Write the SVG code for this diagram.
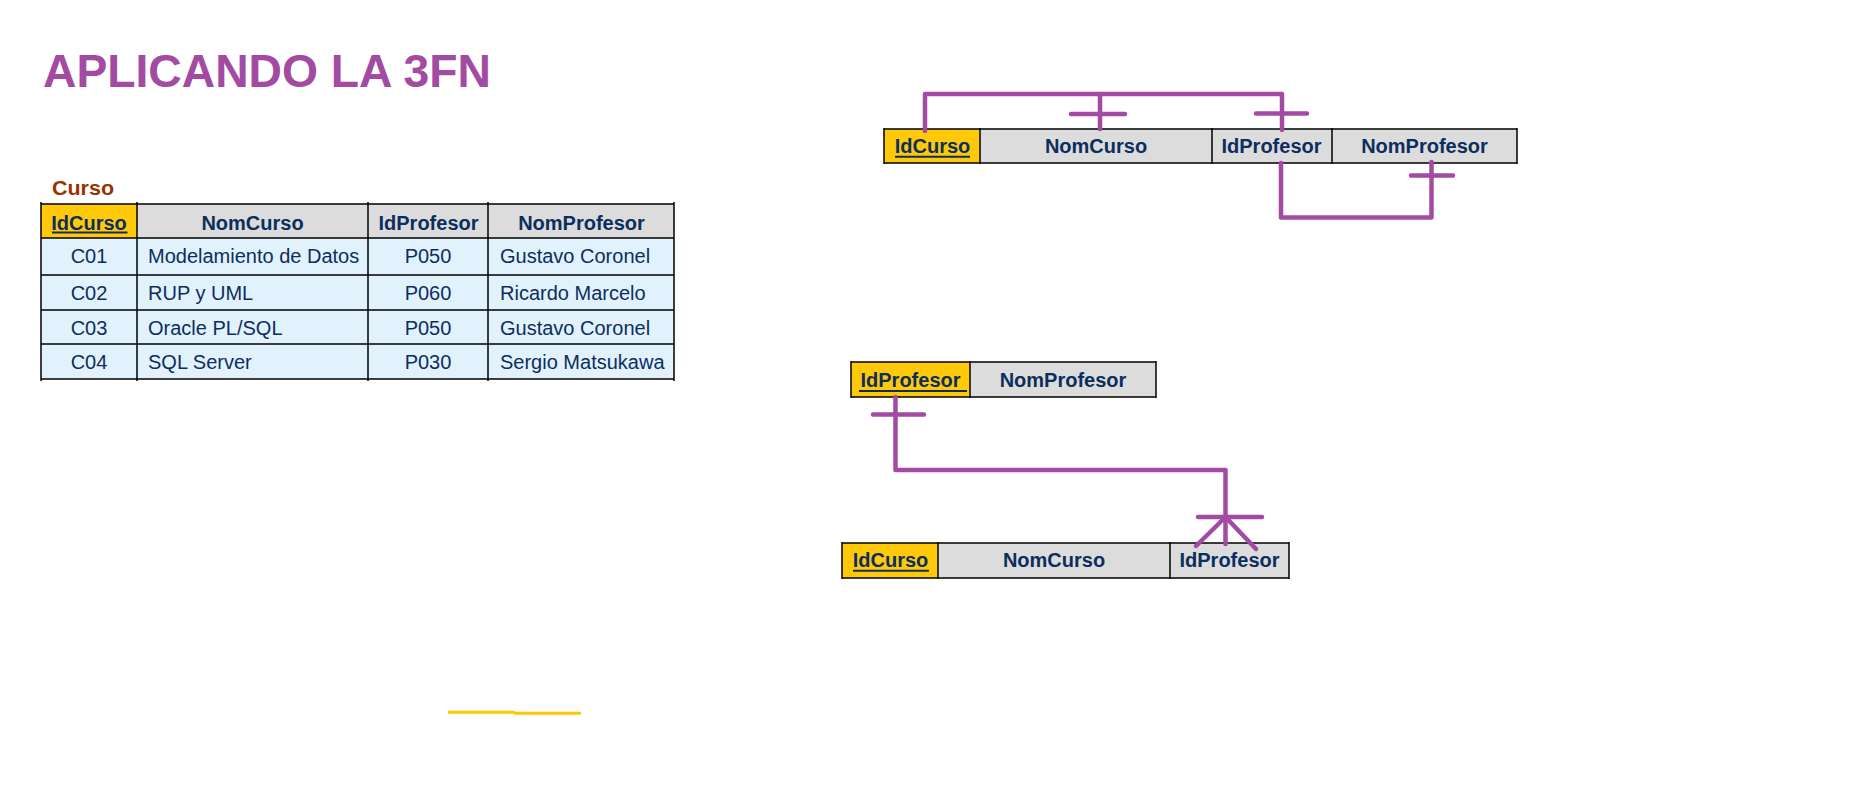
<svg xmlns="http://www.w3.org/2000/svg" width="1856" height="796" viewBox="0 0 1856 796">
<style>
  .title{font-family:"Liberation Sans",Arial,sans-serif;font-weight:bold;font-size:46px;fill:#A34AA2}
  .cap{font-family:"Liberation Sans",Arial,sans-serif;font-weight:bold;font-size:19.5px;fill:#993300}
  .h{font-family:"Liberation Sans",Arial,sans-serif;font-weight:bold;font-size:20px;fill:#0C2E5E;text-anchor:middle}
  .d{font-family:"Liberation Sans",Arial,sans-serif;font-size:20px;fill:#0C2E5E}
  .dc{text-anchor:middle}
  .pk{fill:#FFC90A}
  .hd{fill:#DCDCDC}
  .row{fill:#E1F2FD}
  .grid{stroke:#000;stroke-width:1.5;fill:none}
  .ul{stroke:#0C2E5E;stroke-width:2}
  .conn{stroke:#A34AA2;stroke-width:4.5;fill:none;stroke-linecap:round;stroke-linejoin:round}
  .yl{stroke:#FCC800;stroke-width:3}
</style>
<rect width="1856" height="796" fill="#fff"/>
<text class="title" x="43" y="87" textLength="448" lengthAdjust="spacingAndGlyphs">APLICANDO LA 3FN</text>

<g id="curso-table">
  <text class="cap" x="52" y="195" textLength="62" lengthAdjust="spacingAndGlyphs">Curso</text>
  <rect class="pk" x="41" y="204" width="96" height="34"/>
  <rect class="hd" x="137" y="204" width="537" height="34"/>
  <rect class="row" x="41" y="238" width="633" height="141"/>
  <path class="grid" d="M41 204H674M41 238H674M41 275H674M41 310H674M41 344H674M41 379H674M41 202V381M137 202V381M368 202V381M488 202V381M674 202V381"/>
  <text class="h" x="89" y="229.5">IdCurso</text>
  <line class="ul" x1="52" y1="232.5" x2="127.5" y2="232.5"/>
  <text class="h" x="252.5" y="229.5">NomCurso</text>
  <text class="h" x="428.5" y="229.5">IdProfesor</text>
  <text class="h" x="581.5" y="229.5">NomProfesor</text>
  <g class="d">
    <text class="dc" x="89" y="263">C01</text><text x="148" y="263">Modelamiento de Datos</text><text class="dc" x="428" y="263">P050</text><text x="500" y="263">Gustavo Coronel</text>
    <text class="dc" x="89" y="300">C02</text><text x="148" y="300">RUP y UML</text><text class="dc" x="428" y="300">P060</text><text x="500" y="300">Ricardo Marcelo</text>
    <text class="dc" x="89" y="334.5">C03</text><text x="148" y="334.5">Oracle PL/SQL</text><text class="dc" x="428" y="334.5">P050</text><text x="500" y="334.5">Gustavo Coronel</text>
    <text class="dc" x="89" y="368.5">C04</text><text x="148" y="368.5">SQL Server</text><text class="dc" x="428" y="368.5">P030</text><text x="500" y="368.5">Sergio Matsukawa</text>
  </g>
</g>

<g id="curso-2fn">
  <rect class="pk" x="884" y="129" width="96" height="34"/>
  <rect class="hd" x="980" y="129" width="537" height="34"/>
  <path class="grid" d="M884 129H1517M884 163H1517M884 128V164M980 128V164M1212 128V164M1332 128V164M1517 128V164"/>
  <text class="h" x="932.5" y="153">IdCurso</text>
  <line class="ul" x1="895" y1="156.7" x2="970" y2="156.7"/>
  <text class="h" x="1096" y="153">NomCurso</text>
  <text class="h" x="1271.5" y="153">IdProfesor</text>
  <text class="h" x="1424.5" y="153">NomProfesor</text>
</g>

<g id="profesor">
  <rect class="pk" x="851" y="362" width="119" height="35"/>
  <rect class="hd" x="970" y="362" width="186" height="35"/>
  <path class="grid" d="M851 362H1156M851 397H1156M851 361V398M970 361V398M1156 361V398"/>
  <text class="h" x="910.5" y="387">IdProfesor</text>
  <line class="ul" x1="859" y1="391" x2="967" y2="391"/>
  <text class="h" x="1063" y="387">NomProfesor</text>
</g>

<g id="curso-3fn">
  <rect class="pk" x="842" y="543" width="96" height="35"/>
  <rect class="hd" x="938" y="543" width="351" height="35"/>
  <path class="grid" d="M842 543H1289M842 578H1289M842 542V579M938 542V579M1170 542V579M1289 542V579"/>
  <text class="h" x="890.5" y="567">IdCurso</text>
  <line class="ul" x1="853" y1="570.7" x2="929" y2="570.7"/>
  <text class="h" x="1054" y="567">NomCurso</text>
  <text class="h" x="1229.5" y="567">IdProfesor</text>
</g>

<g id="connectors">
  <path class="conn" d="M925 131V94H1282V130"/>
  <path class="conn" d="M1100 94V129"/>
  <path class="conn" d="M1071 114H1125"/>
  <path class="conn" d="M1256 113.5H1307"/>
  <path class="conn" d="M1281 163V217.5H1431.5V162"/>
  <path class="conn" d="M1411 175.5H1453"/>
  <path class="conn" d="M895.5 397V470H1225.5V544"/>
  <path class="conn" d="M873 414.5H924"/>
  <path class="conn" d="M1198 517H1262"/>
  <path class="conn" d="M1196 546L1225.5 517L1256 549"/>
</g>

<line class="yl" x1="448" y1="712.3" x2="515" y2="712.3"/>
<line class="yl" x1="514" y1="713.3" x2="581" y2="713.3"/>
</svg>
